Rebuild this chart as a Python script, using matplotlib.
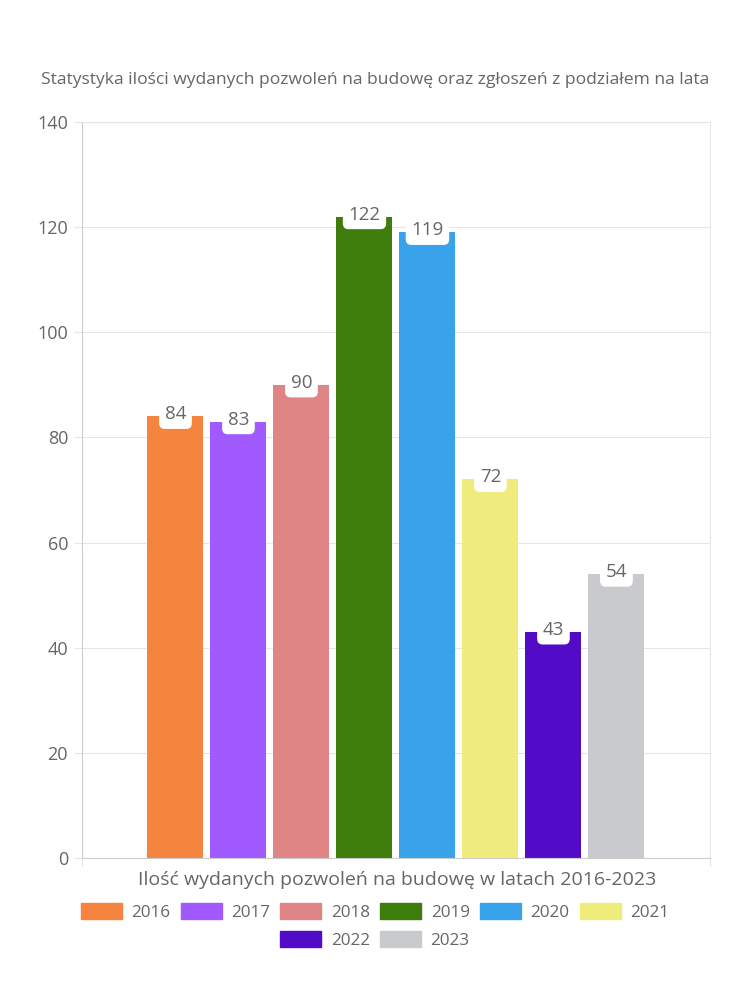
import matplotlib.pyplot as plt
import matplotlib.patches as mpatches

plt.rcParams['font.family'] = ['Open Sans', 'DejaVu Sans']

years = ['2016', '2017', '2018', '2019', '2020', '2021', '2022', '2023']
values = [84, 83, 90, 122, 119, 72, 43, 54]
colors = ['#F5843F', '#A05AFF', '#E08585', '#3E7C0C', '#38A2EA', '#F0EB7D', '#520BC6', '#C9CACE']

title = 'Statystyka ilości wydanych pozwoleń na budowę oraz zgłoszeń z podziałem na lata'
xlabel = 'Ilość wydanych pozwoleń na budowę w latach 2016-2023'

txt = '#666666'
grid = '#E6E6E6'

fig = plt.figure(figsize=(7.5, 10), dpi=100)
ax = fig.add_axes([0.1093, 0.142, 0.8373, 0.736])

step = 63 / 628
width = 56 / 628
for i, (y, v, c) in enumerate(zip(years, values, colors)):
    x = (i - 3.5) * step
    ax.bar(x, v, width=width, color=c, zorder=2)
    ax.annotate(str(v), (x, v), xytext=(0, 1.5), textcoords='offset points',
                ha='center', va='center', fontsize=13.5, color=txt, zorder=4,
                bbox=dict(boxstyle='round,pad=0.3,rounding_size=0.3', fc='white', ec='none'))

ax.set_xlim(-0.5, 0.5)
ax.set_ylim(0, 140)
ax.set_yticks(range(0, 141, 20))
ax.set_xticks([-0.5, 0.5])
ax.set_xticklabels([])
ax.tick_params(axis='y', colors=grid, labelcolor=txt, labelsize=13, length=6, pad=4)
ax.tick_params(axis='x', colors=grid, length=6)
ax.grid(axis='y', color=grid, lw=0.8, zorder=0)
for s in ax.spines.values():
    s.set_color(grid)
    s.set_linewidth(0.8)
ax.spines['bottom'].set_color('#CCCCCC')
ax.spines['left'].set_color('#CCCCCC')

fig.text(0.5, 0.92, title, ha='center', va='center', fontsize=12.6, color=txt)
fig.text(0.529, 0.12, xlabel, ha='center', va='center', fontsize=14, color=txt)

handles = [mpatches.Patch(color=c, label=y) for y, c in zip(years, colors)]
leg_kw = dict(frameon=False, fontsize=12.3, labelcolor=txt, handlelength=2.4, handleheight=1.0,
              handletextpad=0.55, columnspacing=0.6, borderaxespad=0)
fig.legend(handles=handles[:6], ncol=6, loc='center', bbox_to_anchor=(0.5, 0.088), **leg_kw)
fig.legend(handles=handles[6:], ncol=2, loc='center', bbox_to_anchor=(0.5, 0.06), **leg_kw)

fig.savefig('out.png', dpi=100)
